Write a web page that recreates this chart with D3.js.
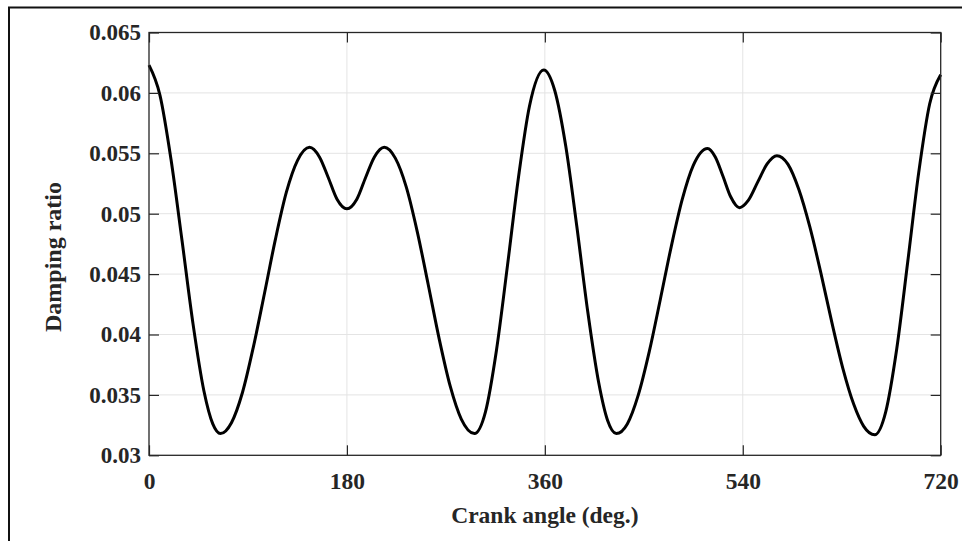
<!DOCTYPE html>
<html>
<head>
<meta charset="utf-8">
<script src="https://cdn.jsdelivr.net/npm/d3@7"></script>
<style>
  body { margin: 0; background: #fff; }
  svg { display: block; }
  text { font-family: "Liberation Serif", "Times New Roman", serif; font-weight: bold; fill: #262626; }
</style>
</head>
<body>
<svg id="chart" width="962" height="541"></svg>
<script>
// Damping ratio over a full engine cycle (crank angle in degrees)
const crankAngle = [
  0, 10, 20, 30, 40, 50, 58, 65,
  75, 85, 95, 105, 115, 125, 135, 146,
  155, 163, 171, 180, 189, 197, 205, 214,
  224, 234, 244, 254, 264, 274, 284, 296,
  306, 316, 326, 336, 346, 359,
  369, 379, 389, 399, 409, 417, 425,
  435, 445, 455, 465, 475, 485, 495, 508,
  515, 522, 529, 537, 545, 554, 562, 571,
  581, 591, 601, 611, 621, 631, 641, 650, 660,
  670, 680, 690, 700, 710, 720
];
const dampingRatio = [
  0.0623, 0.0598, 0.0545, 0.0478, 0.0409, 0.0353, 0.0326, 0.0318,
  0.0327, 0.0352, 0.0390, 0.0434, 0.0479, 0.0518, 0.0544, 0.0555,
  0.0547, 0.0530, 0.0512, 0.0504, 0.0512, 0.0530, 0.0547, 0.0555,
  0.0546, 0.0522, 0.0485, 0.0441, 0.0396, 0.0357, 0.0330, 0.0318,
  0.0336, 0.0387, 0.0457, 0.0530, 0.0589, 0.0619,
  0.0602, 0.0556, 0.0490, 0.0419, 0.0360, 0.0329, 0.0318,
  0.0326, 0.0350, 0.0386, 0.0429, 0.0473, 0.0512, 0.0540, 0.0554,
  0.0547, 0.0531, 0.0514, 0.0505, 0.0511, 0.0527, 0.0541, 0.0548,
  0.0541, 0.0520, 0.0489, 0.0451, 0.0410, 0.0372, 0.0342, 0.0324, 0.0317,
  0.0336, 0.0388, 0.0460, 0.0534, 0.0591, 0.0615
];
const xTicks = [0, 180, 360, 540, 720];
const xTickLabels = ["0", "180", "360", "540", "720"];
const yTicks = [0.03, 0.035, 0.04, 0.045, 0.05, 0.055, 0.06, 0.065];
const yTickLabels = ["0.03", "0.035", "0.04", "0.045", "0.05", "0.055", "0.06", "0.065"];

const svg = d3.select("#chart");
const plotLeft = 149, plotRight = 940.7, plotTop = 32.5, plotBottom = 455.3;

const x = d3.scaleLinear().domain([0, 720]).range([plotLeft, plotRight]);
const y = d3.scaleLinear().domain([0.03, 0.065]).range([plotBottom, plotTop]);

// outer figure frame
svg.append("path")
  .attr("d", "M9,545 L9,7.5 L970,7.5")
  .attr("fill", "none").attr("stroke", "#111").attr("stroke-width", 2);

// grid
const grid = svg.append("g").attr("stroke", "#e4e4e4").attr("stroke-width", 1);
grid.selectAll("line.gx").data(xTicks.slice(1, -1)).join("line")
  .attr("x1", d => x(d)).attr("x2", d => x(d)).attr("y1", plotTop).attr("y2", plotBottom);
grid.selectAll("line.gy").data(yTicks.slice(1, -1)).join("line")
  .attr("y1", d => y(d)).attr("y2", d => y(d)).attr("x1", plotLeft).attr("x2", plotRight);

// curve
const line = d3.line()
  .x((d, i) => x(crankAngle[i]))
  .y(d => y(d))
  .curve(d3.curveMonotoneX);
svg.append("path")
  .datum(dampingRatio)
  .attr("d", line)
  .attr("fill", "none")
  .attr("stroke", "#000")
  .attr("stroke-width", 3)
  .attr("stroke-linejoin", "round");

// axes with inward ticks
function styleAxis(g) {
  g.select(".domain").remove();
  g.selectAll(".tick line").attr("stroke", "#262626").attr("stroke-width", 1.2);
}
const fmtX = (d, i) => xTickLabels[i];
const fmtY = (d, i) => yTickLabels[i];

const xAxis = svg.append("g").attr("transform", `translate(0,${plotBottom})`)
  .call(d3.axisBottom(x).tickValues(xTicks).tickFormat(fmtX).tickSizeInner(-10).tickSizeOuter(0).tickPadding(17));
styleAxis(xAxis);
xAxis.selectAll(".tick text").attr("font-size", 23.5).attr("fill", "#262626")
  .attr("font-family", "Liberation Serif, Times New Roman, serif").attr("font-weight", "bold");

svg.append("g").attr("transform", `translate(0,${plotTop})`)
  .call(d3.axisTop(x).tickValues(xTicks).tickFormat("").tickSizeInner(-10).tickSizeOuter(0))
  .call(styleAxis);

const yAxis = svg.append("g").attr("transform", `translate(${plotLeft},0)`)
  .call(d3.axisLeft(y).tickValues(yTicks).tickFormat(fmtY).tickSizeInner(-10).tickSizeOuter(0).tickPadding(8));
styleAxis(yAxis);
yAxis.selectAll(".tick text").attr("font-size", 23).attr("fill", "#262626")
  .attr("font-family", "Liberation Serif, Times New Roman, serif").attr("font-weight", "bold");

svg.append("g").attr("transform", `translate(${plotRight},0)`)
  .call(d3.axisRight(y).tickValues(yTicks).tickFormat("").tickSizeInner(-10).tickSizeOuter(0))
  .call(styleAxis);

// plot box
svg.append("rect")
  .attr("x", plotLeft).attr("y", plotTop).attr("width", plotRight - plotLeft).attr("height", plotBottom - plotTop)
  .attr("fill", "none").attr("stroke", "#262626").attr("stroke-width", 1.3);

// axis titles
svg.append("text")
  .attr("x", (plotLeft + plotRight) / 2).attr("y", 523)
  .attr("text-anchor", "middle").attr("font-size", 23.5)
  .attr("fill", "#000")
  .text("Crank angle (deg.)");

svg.append("text")
  .attr("transform", "translate(61,257) rotate(-90)")
  .attr("text-anchor", "middle").attr("font-size", 24)
  .attr("fill", "#000")
  .text("Damping ratio");
</script>
</body>
</html>
